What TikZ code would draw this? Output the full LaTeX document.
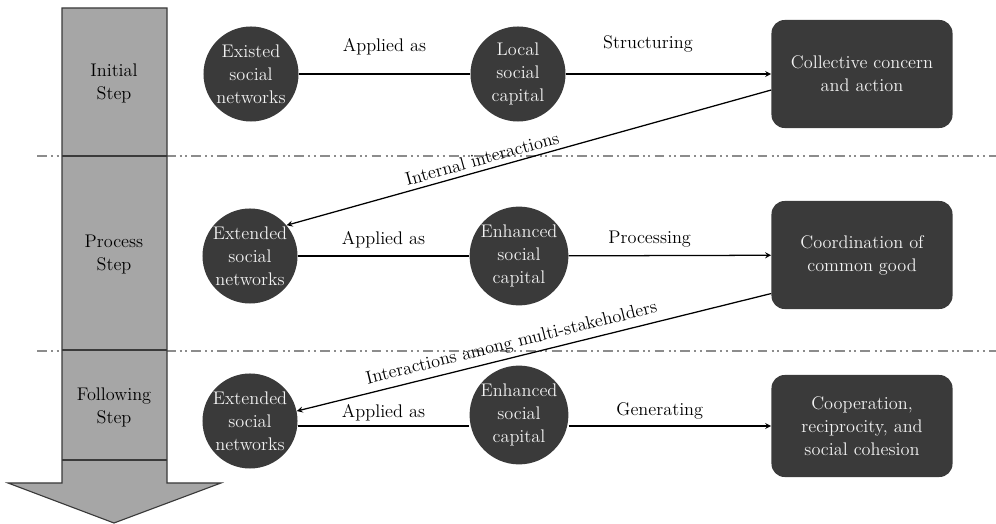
\documentclass[tikz,border=0pt]{standalone}
\usepackage{xcolor}
\usepackage{tikz}
\usetikzlibrary{arrows.meta,calc}
\definecolor{nodegray}{HTML}{3A3A3A}
\definecolor{stepgray}{HTML}{A6A6A6}
\definecolor{sepgray}{HTML}{8C8C8C}
\definecolor{lighttext}{HTML}{F2F2F2}

\begin{document}
\begin{tikzpicture}[
    x=0.025cm, y=-0.025cm,
    every node/.style={font=\fontsize{13}{16.4}\selectfont},
    circ/.style={circle, fill=nodegray, text=lighttext, minimum size=2.375cm,
                 inner sep=0pt, align=center},
    box/.style={rounded corners=0.33cm, fill=nodegray, text=lighttext,
                minimum width=4.525cm, minimum height=2.7cm, align=center},
    stepcol/.style={draw=nodegray, fill=stepgray, line width=0.8pt},
    steptxt/.style={align=center},
    sep/.style={sepgray, line width=0.9pt,
                dash pattern=on 7pt off 3pt on 1.4pt off 2.5pt on 1.4pt off 3pt},
    arr/.style={->, line width=0.9pt, >=stealth},
    lbl/.style={text=black}
]
    \useasboundingbox (0,0) rectangle (996,524);

    % separators between the steps
    \draw[sep] (37,156) -- (996,156);
    \draw[sep] (37,351) -- (996,351);

    % big downward arrow on the left
    \draw[stepcol] (62,8) -- (167,8) -- (167,483) -- (221,483) -- (114,523)
        -- (8,483) -- (62,483) -- cycle;
    \draw[nodegray, line width=0.8pt] (62,156) -- (167,156);
    \draw[nodegray, line width=0.8pt] (62,350) -- (167,350);
    \draw[nodegray, line width=0.8pt] (62,460) -- (167,460);
    \node[steptxt] (ini) at (114,83) {Initial\\Step};
    \node[steptxt] (pro) at (114,255) {Process\\Step};
    \node[steptxt] (fol) at (114,407) {Following\\Step};

    % initial step
    \node[circ] (esn) at (251,74) {Existed\\social\\networks};
    \node[circ] (lsc) at (518,74) {Local\\social\\capital};
    \node[box] (cca) at (862,74) {Collective concern\\and action};

    % process step
    \node[circ] (xsn) at (250,256) {Extended\\social\\networks};
    \node[circ] (esc) at (519,256) {Enhanced\\social\\capital};
    \node[box] (ccg) at (862,255) {Coordination of\\common good};

    % following step
    \node[circ] (xsn2) at (250,421) {Extended\\social\\networks};
    \node[circ] (esc2) at (519,415) {Enhanced\\social\\capital};
    \node[box, minimum height=2.55cm] (crs) at (862,426)
        {Cooperation,\\reciprocity, and\\social cohesion};

    \draw[line width=0.9pt] (esn) -- node[lbl, yshift=0.68cm] (ap1) {Applied as} (lsc);
    \draw[arr] (lsc) -- node[lbl, pos=0.4, yshift=0.75cm] (str) {Structuring} (cca);
    \draw[arr] (cca.190) -- node[lbl, sloped, above, pos=0.59] (iin) {Internal interactions} (xsn.40);

    \draw[line width=0.9pt] (xsn) -- node[lbl, yshift=0.4cm] (ap2) {Applied as} (esc);
    \draw[arr] (esc) -- node[lbl, pos=0.4, yshift=0.4cm] (prc) {Processing} (ccg);
    \draw[arr] (ccg.203) -- node[lbl, sloped, above, pos=0.54] (ims)
        {Interactions among multi-stakeholders} (xsn2.12);

    \draw[line width=0.9pt] (xsn2.east |- crs) -- node[lbl, yshift=0.33cm] (ap3) {Applied as} (esc2.west |- crs);
    \draw[arr] (esc2.east |- crs) -- node[lbl, pos=0.45, yshift=0.38cm] (gen) {Generating} (crs);
\end{tikzpicture}
\end{document}
